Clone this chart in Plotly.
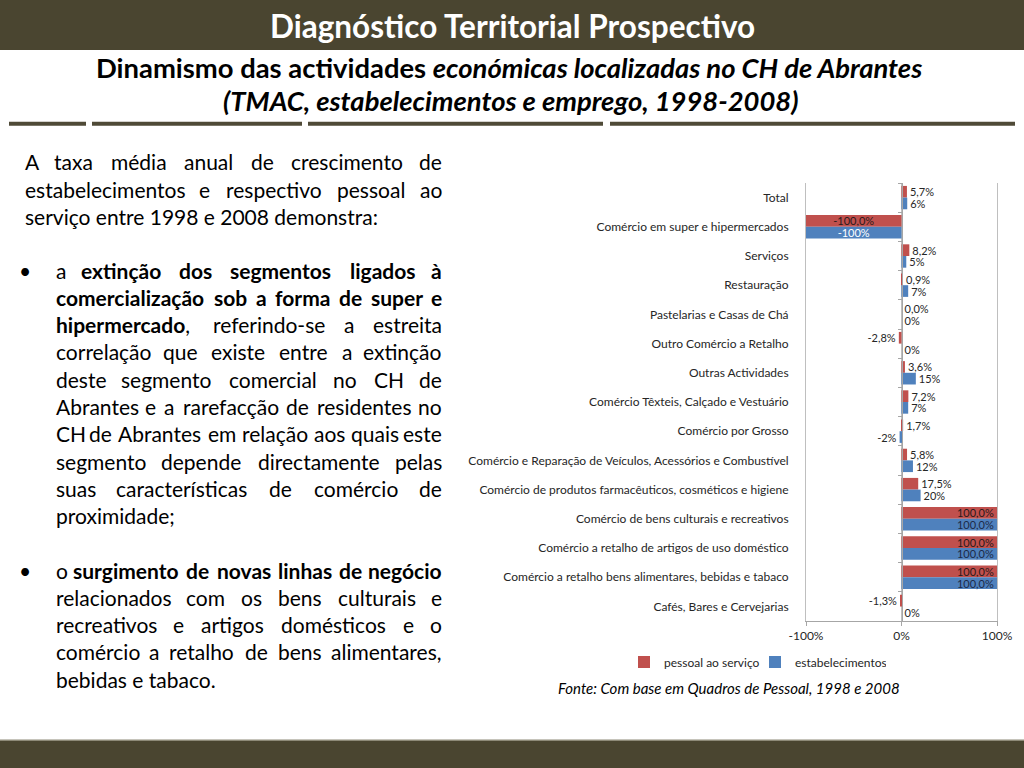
import unicodedata
import plotly.graph_objects as go

W, H = 1024, 768

# ---------------- data ----------------
categories = [
    "Total",
    "Comércio em super e hipermercados",
    "Serviços",
    "Restauração",
    "Pastelarias e Casas de Chá",
    "Outro Comércio a Retalho",
    "Outras Actividades",
    "Comércio Têxteis, Calçado e Vestuário",
    "Comércio por Grosso",
    "Comércio e Reparação de Veículos, Acessórios e Combustível",
    "Comércio de produtos farmacêuticos, cosméticos e higiene",
    "Comércio de bens culturais e recreativos",
    "Comércio a retalho de artigos de uso doméstico",
    "Comércio a retalho bens alimentares, bebidas e tabaco",
    "Cafés, Bares e Cervejarias",
]
pessoal = [5.7, -100.0, 8.2, 0.9, 0.0, -2.8, 3.6, 7.2, 1.7, 5.8, 17.5, 100.0, 100.0, 100.0, -1.3]
estabelecimentos = [6, -100, 5, 7, 0, 0, 15, 7, -2, 12, 20, 100, 100, 100, 0]
pessoal_labels = ["5,7%", "-100,0%", "8,2%", "0,9%", "0,0%", "-2,8%", "3,6%", "7,2%",
                  "1,7%", "5,8%", "17,5%", "100,0%", "100,0%", "100,0%", "-1,3%"]
estab_labels = ["6%", "-100%", "5%", "7%", "0%", "0%", "15%", "7%",
                "-2%", "12%", "20%", "100,0%", "100,0%", "100,0%", "0%"]
x_tick_vals = [-100, 0, 100]
x_tick_text = ["-100%", "0%", "100%"]
series_names = ["pessoal ao serviço", "estabelecimentos"]

# body text lines ("*" marks bold, "|" splits bold part from trailing normal part)
para1 = [
    "A taxa média anual de crescimento de",
    "estabelecimentos e respectivo pessoal ao",
    "serviço entre 1998 e 2008 demonstra:",
]
bullet1 = [
    "a *extinção *dos *segmentos *ligados *à",
    "*comercialização *sob *a *forma *de *super *e",
    "*hipermercado|, referindo-se a estreita",
    "correlação que existe entre a extinção",
    "deste segmento comercial no CH de",
    "Abrantes e a rarefacção de residentes no",
    "CH de Abrantes em relação aos quais este",
    "segmento depende directamente pelas",
    "suas características de comércio de",
    "proximidade;",
]
bullet2 = [
    "o *surgimento *de *novas *linhas *de *negócio",
    "relacionados com os bens culturais e",
    "recreativos e artigos domésticos e o",
    "comércio a retalho de bens alimentares,",
    "bebidas e tabaco.",
]

RED = "#c0504d"
BLUE = "#4f81bd"
OLIVE = "#4a4530"
FONT = "Lato"
TXT = "#262626"
GRID = "#bfbfbf"
AXIS = "#a6a6a6"


def fx(px):
    return px / W


def fy(py):
    return 1 - py / H


fig = go.Figure()


def add_series(vals, labels, name, color, group, neg_inside_color, pos_inside_color):
    main_x = [v if v < 100 else None for v in vals]
    main_t = [l if v < 100 else "" for v, l in zip(vals, labels)]
    pos = ["inside" if v <= -100 else "outside" for v in vals]
    fig.add_trace(go.Bar(
        y=categories, x=main_x, orientation="h", name=name, marker_color=color,
        marker_line_width=0, offsetgroup=group, text=main_t, textposition=pos,
        insidetextanchor="middle", textangle=0, constraintext="none", cliponaxis=False,
        insidetextfont=dict(family=FONT, size=11, color=neg_inside_color),
        outsidetextfont=dict(family=FONT, size=11, color=TXT),
        hoverinfo="skip", legendgroup=group,
    ))
    full_x = [v if v >= 100 else None for v in vals]
    full_t = [l if v >= 100 else "" for v, l in zip(vals, labels)]
    fig.add_trace(go.Bar(
        y=categories, x=full_x, orientation="h", name=name, marker_color=color,
        marker_line_width=0, offsetgroup=group, text=full_t, textposition="inside",
        insidetextanchor="end", textangle=0, constraintext="none", cliponaxis=False,
        insidetextfont=dict(family=FONT, size=11, color=pos_inside_color),
        hoverinfo="skip", showlegend=False, legendgroup=group,
    ))


add_series(pessoal, pessoal_labels, series_names[0], RED, "p", "#2a1a1a", "#2a1a1a")
add_series(estabelecimentos, estab_labels, series_names[1], BLUE, "e", "#ffffff", "#1c2a48")

# invisible trace that carries the category axis drawn at x = 0
fig.add_trace(go.Scatter(x=[0] * len(categories), y=categories, yaxis="y2", mode="markers",
                         marker=dict(opacity=0), showlegend=False, hoverinfo="skip"))

n = len(categories)
plot_left, plot_right, plot_top, plot_bottom = 806, 997, 183, 621

fig.update_layout(
    width=W, height=H, autosize=False,
    margin=dict(l=0, r=0, t=0, b=0),
    paper_bgcolor="white", plot_bgcolor="white",
    barmode="group", bargap=0.2, bargroupgap=0,
    font=dict(family=FONT, color=TXT),
    xaxis=dict(domain=[fx(plot_left), fx(plot_right)], range=[-100, 100],
               tickvals=x_tick_vals, ticktext=x_tick_text, showgrid=True,
               gridcolor=GRID, gridwidth=1, zeroline=False, showline=True,
               linecolor=AXIS, ticks="outside", ticklen=4, tickcolor=AXIS,
               tickfont=dict(family=FONT, size=12, color=TXT), anchor="y",
               automargin=False, fixedrange=True),
    yaxis=dict(domain=[fy(plot_bottom), fy(plot_top)], type="category",
               categoryorder="array", categoryarray=categories, range=[n - 0.5, -0.5],
               showgrid=False, showline=True, mirror=True, linecolor=GRID,
               zeroline=False, ticks="",
               ticklabelstandoff=14, tickfont=dict(family=FONT, size=12, color=TXT),
               automargin=False, fixedrange=True),
    yaxis2=dict(overlaying="y", anchor="free", position=fx(901.5), type="category",
                categoryorder="array", categoryarray=categories, range=[n - 0.5, -0.5],
                tickson="boundaries", ticks="outside", ticklen=4, tickcolor=AXIS,
                showticklabels=False, showline=True, linecolor=AXIS,
                showgrid=False, zeroline=False, side="left", automargin=False,
                fixedrange=True),
    legend=dict(orientation="h", x=fx(624), xanchor="left", y=fy(662), yanchor="middle",
                font=dict(family=FONT, size=12, color=TXT), bgcolor="rgba(0,0,0,0)",
                itemwidth=30, entrywidth=86, entrywidthmode="pixels",
                traceorder="normal"),
    showlegend=True,
)

shapes = [
    dict(type="rect", xref="paper", yref="paper", x0=0, x1=1, y0=fy(50), y1=1,
         fillcolor=OLIVE, line=dict(width=0), layer="below"),
    dict(type="rect", xref="paper", yref="paper", x0=0, x1=1, y0=0, y1=fy(741),
         fillcolor=OLIVE, line=dict(width=0), layer="below"),
    dict(type="rect", xref="paper", yref="paper", x0=0, x1=1, y0=fy(741), y1=fy(739.5),
         fillcolor="#8e8a78", line=dict(width=0), layer="below"),
]
for a, b in [(9, 86), (92, 302), (308, 603), (610, 1015)]:
    shapes.append(dict(type="rect", xref="paper", yref="paper", x0=fx(a), x1=fx(b),
                       y0=fy(125.7), y1=fy(121.7), fillcolor="#4f4a37",
                       line=dict(width=0), layer="below"))
fig.update_layout(shapes=shapes)

ann = []


def text(x, y, s, size, anchor="center", color="black", family=FONT):
    ann.append(dict(xref="paper", yref="paper", x=fx(x), y=fy(y), text=s, showarrow=False,
                    xanchor=anchor, yanchor="middle",
                    font=dict(family=family, size=size, color=color)))


text(512, 26, "<b>Diagnóstico Territorial Prospectivo</b>", 31.5, color="white")
text(509, 68, "<b>Dinamismo das actividades <i>económicas localizadas no CH de Abrantes</i></b>", 27.4)
text(511, 101, "<b><i>(TMAC, estabelecimentos e emprego, 1998-2008)</i></b>", 27.4)
text(729, 688, "<i>Fonte: Com base em Quadros de Pessoal, 1998 e 2008</i>", 15, color="black")

# ---- justified body text (approximate Lato advance widths, in em) ----
CW = dict(a=.50, b=.56, c=.46, d=.56, e=.53, f=.33, g=.50, h=.56, i=.24, j=.24, k=.50,
          l=.24, m=.84, n=.56, o=.56, p=.56, q=.56, r=.37, s=.43, t=.35, u=.56, v=.50,
          w=.76, x=.49, y=.50, z=.45, A=.68, B=.63, C=.67, D=.74, E=.56, F=.54, G=.72,
          H=.75, I=.28, J=.40, K=.65, L=.50, M=.90, N=.75, O=.78, P=.60, Q=.78, R=.62,
          S=.52, T=.58, U=.72, V=.68, W=1.0, X=.65, Y=.62, Z=.60)
PUNCT = {",": .23, ".": .23, ";": .23, ":": .23, "-": .34, "(": .30, ")": .30}
BODY = 21


def char_w(ch):
    if ch.isdigit():
        return .58
    if ch in PUNCT:
        return PUNCT[ch]
    base = unicodedata.normalize("NFD", ch)[0]
    return CW.get(base, .55)


def token(tok):
    """return (html, width_px)"""
    if tok.startswith("*"):
        tok = tok[1:]
        if "|" in tok:
            b, rest = tok.split("|", 1)
        else:
            b, rest = tok, ""
        w = sum(char_w(c) for c in b) * 1.05 + sum(char_w(c) for c in rest)
        return "<b>%s</b>%s" % (b, rest), w * BODY
    return tok, sum(char_w(c) for c in tok) * BODY


def place_paragraph(lines, y0, left, right, dy=27.3):
    for k, line in enumerate(lines):
        y = y0 + k * dy
        toks = [token(t) for t in line.split(" ")]
        if k == len(lines) - 1:
            text(left, y, " ".join(h for h, _ in toks), BODY, anchor="left")
            continue
        total = sum(w for _, w in toks)
        gap = (right - left - total) / (len(toks) - 1)
        x = left
        for i, (h, w) in enumerate(toks):
            if i == 0:
                text(left, y, h, BODY, anchor="left")
            elif i == len(toks) - 1:
                text(right, y, h, BODY, anchor="right")
            else:
                text(x + w / 2, y, h, BODY)
            x += w + gap


L0, L1, R = 23, 54, 443.5
place_paragraph(para1, 161.7, L0, R)
place_paragraph(bullet1, 270, L1, R)
place_paragraph(bullet2, 570, L1, R)
for y in (270, 570):
    text(25, y, "•", BODY)

fig.update_layout(annotations=ann)

fig.write_html("out.html", config={"displayModeBar": False},
               post_script="document.body.style.margin='0px';")
